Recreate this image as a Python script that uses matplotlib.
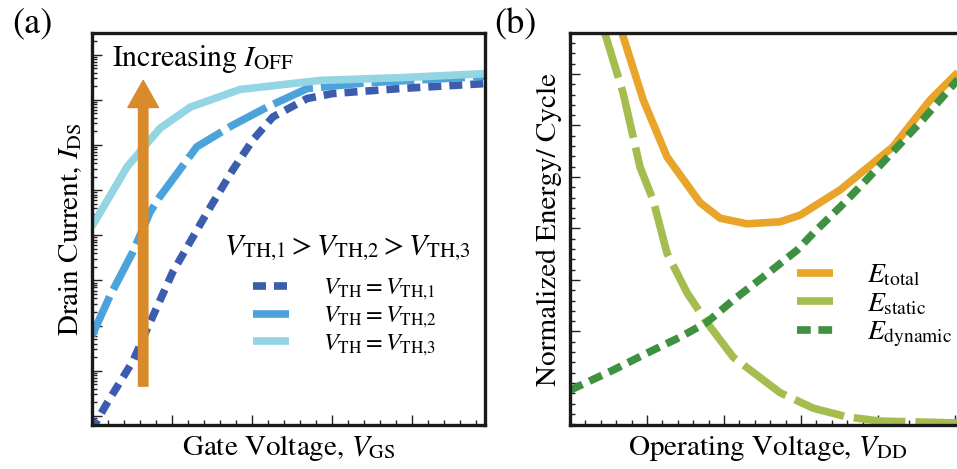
import numpy as np
import matplotlib
matplotlib.use("Agg")
import matplotlib.pyplot as plt
from matplotlib.ticker import MultipleLocator, LogLocator, NullFormatter
from matplotlib.patches import FancyArrowPatch

plt.rcParams["font.family"] = ["STIXGeneral", "DejaVu Serif"]
plt.rcParams["mathtext.fontset"] = "stix"

# (a) drain current vs gate voltage, y values are log10(I_DS)
vgs_th1 = [0.0, 0.06, 0.19, 0.51, 0.69, 1.01, 1.44, 1.76, 2.01, 2.26, 2.69, 3.01, 3.85, 4.91]
ids_th1 = [-0.35, -0.11, 0.29, 1.21, 1.93, 3.19, 4.51, 5.45, 6.11, 6.62, 7.03, 7.14, 7.25, 7.36]
vgs_th2 = [0.0, 0.225, 0.51, 0.725, 0.85, 1.31, 1.76, 2.19, 2.69, 3.44, 4.91]
ids_th2 = [1.78, 2.66, 3.63, 4.51, 4.86, 5.96, 6.44, 6.84, 7.25, 7.38, 7.52]
vgs_th3 = [0.0, 0.44, 0.85, 1.23, 1.85, 2.85, 3.85, 4.91]
ids_th3 = [4.20, 5.52, 6.37, 6.84, 7.23, 7.43, 7.49, 7.58]

# (b) normalized energy per cycle vs operating voltage
vdd_total = [0.64, 0.675, 0.95, 1.26, 1.69, 1.95, 2.30, 2.73, 2.99, 3.51, 4.19, 4.68, 5.03, 5.13]
e_total = [7.05, 6.80, 5.50, 4.39, 3.50, 3.20, 3.09, 3.13, 3.26, 3.75, 4.58, 5.50, 6.02, 6.18]
vdd_static = [0.43, 0.48, 0.69, 0.91, 1.08, 1.26, 1.52, 1.78, 2.12, 2.73, 3.16, 3.60, 4.03, 5.13]
e_static = [6.89, 6.66, 5.63, 4.19, 3.55, 2.52, 1.75, 1.17, 0.50, -0.19, -0.49, -0.66, -0.74, -0.78]
vdd_dynamic = [0.0, 0.56, 1.0, 1.43, 1.78, 2.12, 2.51, 2.95, 3.16, 3.51, 3.81, 4.25, 4.58, 5.03, 5.13]
e_dynamic = [-0.14, 0.25, 0.58, 0.89, 1.18, 1.61, 2.06, 2.58, 2.91, 3.42, 3.88, 4.58, 5.11, 5.88, 6.05]

c_th1 = "#3C5DAD"
c_th2 = "#4CA3DB"
c_th3 = "#93D5E3"
c_arrow = "#D98A2A"
c_total = "#E9A52A"
c_static = "#A4BD4E"
c_dynamic = "#3E9140"

W, H = 957, 469
fig = plt.figure(figsize=(W / 100, H / 100), dpi=100)
ax1 = fig.add_axes([92 / W, 44 / H, 393 / W, 392 / H])
ax2 = fig.add_axes([570 / W, 44 / H, 395 / W, 392 / H])

for ax in (ax1, ax2):
    for s in ax.spines.values():
        s.set_linewidth(2.4)
        s.set_color("#1a1a1a")
    ax.tick_params(which="both", direction="in", top=False, right=False,
                   labelbottom=False, labelleft=False, width=1.0, color="#222222")
    ax.tick_params(which="major", length=7)
    ax.tick_params(which="minor", length=3.5)

# ---- (a)
lw = 5.5
ax1.set_yscale("log")
ax1.plot(vgs_th1, 10 ** np.array(ids_th1), color=c_th1, lw=lw, dashes=(1.7, 1.05),
         dash_capstyle="butt", label=r"$V_{\mathrm{TH}} = V_{\mathrm{TH{,}1}}$")
ax1.plot(vgs_th2, 10 ** np.array(ids_th2), color=c_th2, lw=lw, dashes=(5.6, 1.05),
         dash_capstyle="butt", label=r"$V_{\mathrm{TH}} = V_{\mathrm{TH{,}2}}$")
ax1.plot(vgs_th3, 10 ** np.array(ids_th3), color=c_th3, lw=lw,
         solid_capstyle="butt", label=r"$V_{\mathrm{TH}} = V_{\mathrm{TH{,}3}}$")
ax1.set_xlim(0, 393 / 80)
ax1.set_ylim(10 ** -0.2, 10 ** 8.48)
ax1.xaxis.set_major_locator(MultipleLocator(1.0))
ax1.xaxis.set_minor_locator(MultipleLocator(0.2))
ax1.yaxis.set_major_locator(LogLocator(base=10, numticks=30))
ax1.yaxis.set_minor_locator(LogLocator(base=10, subs=np.arange(2, 10), numticks=30))
ax1.yaxis.set_minor_formatter(NullFormatter())

arrow = FancyArrowPatch((0.64, 10 ** 0.66), (0.64, 10 ** 7.43),
                        arrowstyle="simple,head_length=19.5,head_width=22,tail_width=6.8",
                        mutation_scale=1, color=c_arrow, shrinkA=0, shrinkB=0, zorder=5)
ax1.add_patch(arrow)
ax1.text(0.05, 0.933, r"Increasing $I_{\mathrm{OFF}}$", transform=ax1.transAxes,
         fontsize=21.5, va="center", ha="left")

# threshold ordering above the legend entries
ax1.text(0.649, 0.452, r"$V_{\mathrm{TH{,}1}} > V_{\mathrm{TH{,}2}} > V_{\mathrm{TH{,}3}}$",
         transform=ax1.transAxes, fontsize=21.5, ha="center", va="center")
ax1.legend(loc="upper center", bbox_to_anchor=(0.644, 0.378), frameon=False,
           fontsize=17.5, handlelength=1.5, handletextpad=1.4, labelspacing=0.1,
           borderpad=0, borderaxespad=0)
ax1.set_ylabel(r"Drain Current, $I_{\mathrm{DS}}$", fontsize=21, labelpad=6)
ax1.set_xlabel(r"Gate Voltage, $V_{\mathrm{GS}}$", fontsize=21, labelpad=6)

# ---- (b)
ax2.plot(vdd_total, e_total, color=c_total, lw=lw, solid_capstyle="butt", label=r"$E_{\mathrm{total}}$")
ax2.plot(vdd_static, e_static, color=c_static, lw=lw, dashes=(6.8, 1.3),
         dash_capstyle="butt", label=r"$E_{\mathrm{static}}$")
ax2.plot(vdd_dynamic, e_dynamic, color=c_dynamic, lw=lw, dashes=(1.8, 1.0),
         dash_capstyle="butt", label=r"$E_{\mathrm{dynamic}}$")
ax2.set_xlim(0, 395 / 77)
ax2.set_ylim(-0.816, 392 / 51.5 - 0.816)
ax2.xaxis.set_major_locator(MultipleLocator(1.0))
ax2.xaxis.set_minor_locator(MultipleLocator(0.2))
ax2.yaxis.set_major_locator(MultipleLocator(1.0))
ax2.yaxis.set_minor_locator(MultipleLocator(0.2))

ax2.legend(loc="upper left", bbox_to_anchor=(0.575, 0.413), frameon=False,
           fontsize=20, handlelength=1.3, handletextpad=1.2, labelspacing=0.1,
           borderpad=0, borderaxespad=0)
ax2.set_ylabel("Normalized Energy/ Cycle", fontsize=21, labelpad=6)
ax2.set_xlabel(r"Operating Voltage, $V_{\mathrm{DD}}$", fontsize=21, labelpad=6)

fig.text(32 / W, 1 - 25 / H, "(a)", fontsize=26, ha="center", va="center")
fig.text(515 / W, 1 - 25 / H, "(b)", fontsize=26, ha="center", va="center")

fig.savefig("out.png", dpi=100)
